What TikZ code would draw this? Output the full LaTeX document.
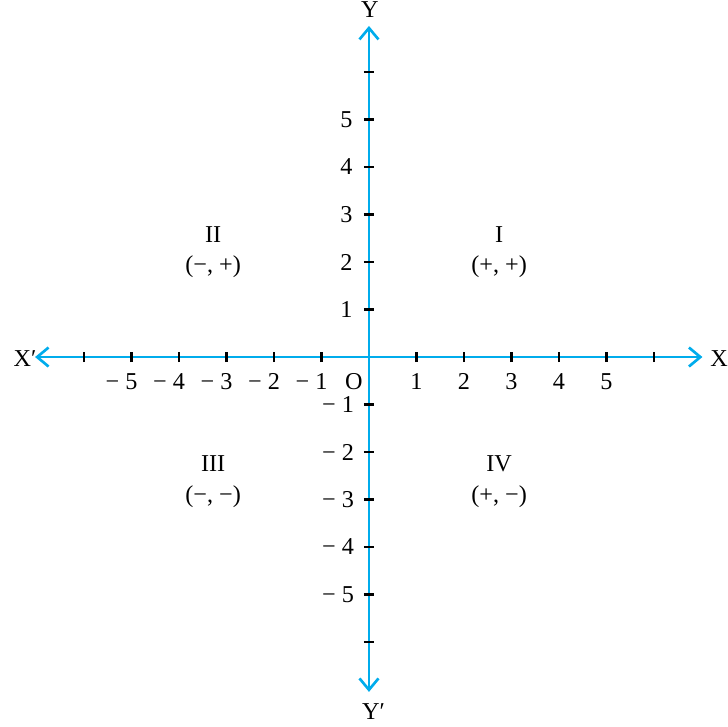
\documentclass[tikz,border=0pt]{standalone}
\usepackage{fontspec}
\setmainfont{Liberation Serif}
\usepackage{tikz}
\usetikzlibrary{arrows.meta}
\definecolor{axisblue}{RGB}{0,172,236}

\begin{document}
\begin{tikzpicture}[>={Straight Barb[length=0.24cm, width=0.4cm]}, font=\fontsize{14.5}{16}\selectfont]
  \useasboundingbox (-7.768,-7.768) rectangle (7.558,7.516);
  \tikzset{
    axis/.style={draw=axisblue, line width=1.6pt},
    tickmark/.style={draw=black, line width=1.3pt},
    xnum/.style={anchor=north, inner sep=0pt},
    ynum/.style={anchor=east, inner sep=0pt},
    quad/.style={anchor=base, inner sep=0pt},
    axlabel/.style={inner sep=0pt}
  }
  % ends of the two axes
  \coordinate (xa) at (-7.03, 0);
  \coordinate (xb) at (7.02, 0);
  \coordinate (ya) at (0, -7.05);
  \coordinate (yb) at (0, 6.97);
  \coordinate (o) at (0, 0);
  % axes (blue, both ends open arrows)
  \draw[axis, <->] (xa) -- (xb);
  \draw[axis, <->] (ya) -- (yb);
  % tick marks
  \foreach \k in {-6,...,-1,1,2,...,6} {
    \draw[tickmark] (\k,-0.105) -- (\k,0.105);
    \draw[tickmark] (-0.105,\k) -- (0.105,\k);
  }
  % numbers on the axes
  \foreach \k in {1,...,5} {
    \node[xnum] (xp\k) at (\k,-0.34) {\k};
    \node[xnum] (xn\k) at (-\k,-0.34) {\llap{−\hspace{0.25em}}\k};
    \node[ynum] (yp\k) at (-0.34,\k) {\k};
    \node[ynum] (yn\k) at (-0.31,-\k) {−\hspace{0.25em}\k};
  }
  \node[xnum] (orig) at (-0.32,-0.34) {O};
  % axis names
  \node[axlabel, anchor=base west] (xl) at (-7.49,-0.21) {X′};
  \node[axlabel, anchor=base west] (xr) at (7.18,-0.21) {X};
  \node[axlabel, anchor=base] (yt) at (0.02,7.14) {Y};
  \node[axlabel, anchor=base west] (yd) at (-0.15,-7.64) {Y′};
  % quadrants
  \node[quad] (q1) at (2.74,2.42) {I};
  \node[quad] (s1) at (2.74,1.77) {(+, +)};
  \node[quad] (q2) at (-3.28,2.42) {II};
  \node[quad] (s2) at (-3.28,1.77) {(−, +)};
  \node[quad] (q3) at (-3.28,-2.42) {III};
  \node[quad] (s3) at (-3.28,-3.07) {(−, −)};
  \node[quad] (q4) at (2.74,-2.42) {IV};
  \node[quad] (s4) at (2.74,-3.07) {(+, −)};
\end{tikzpicture}
\end{document}
